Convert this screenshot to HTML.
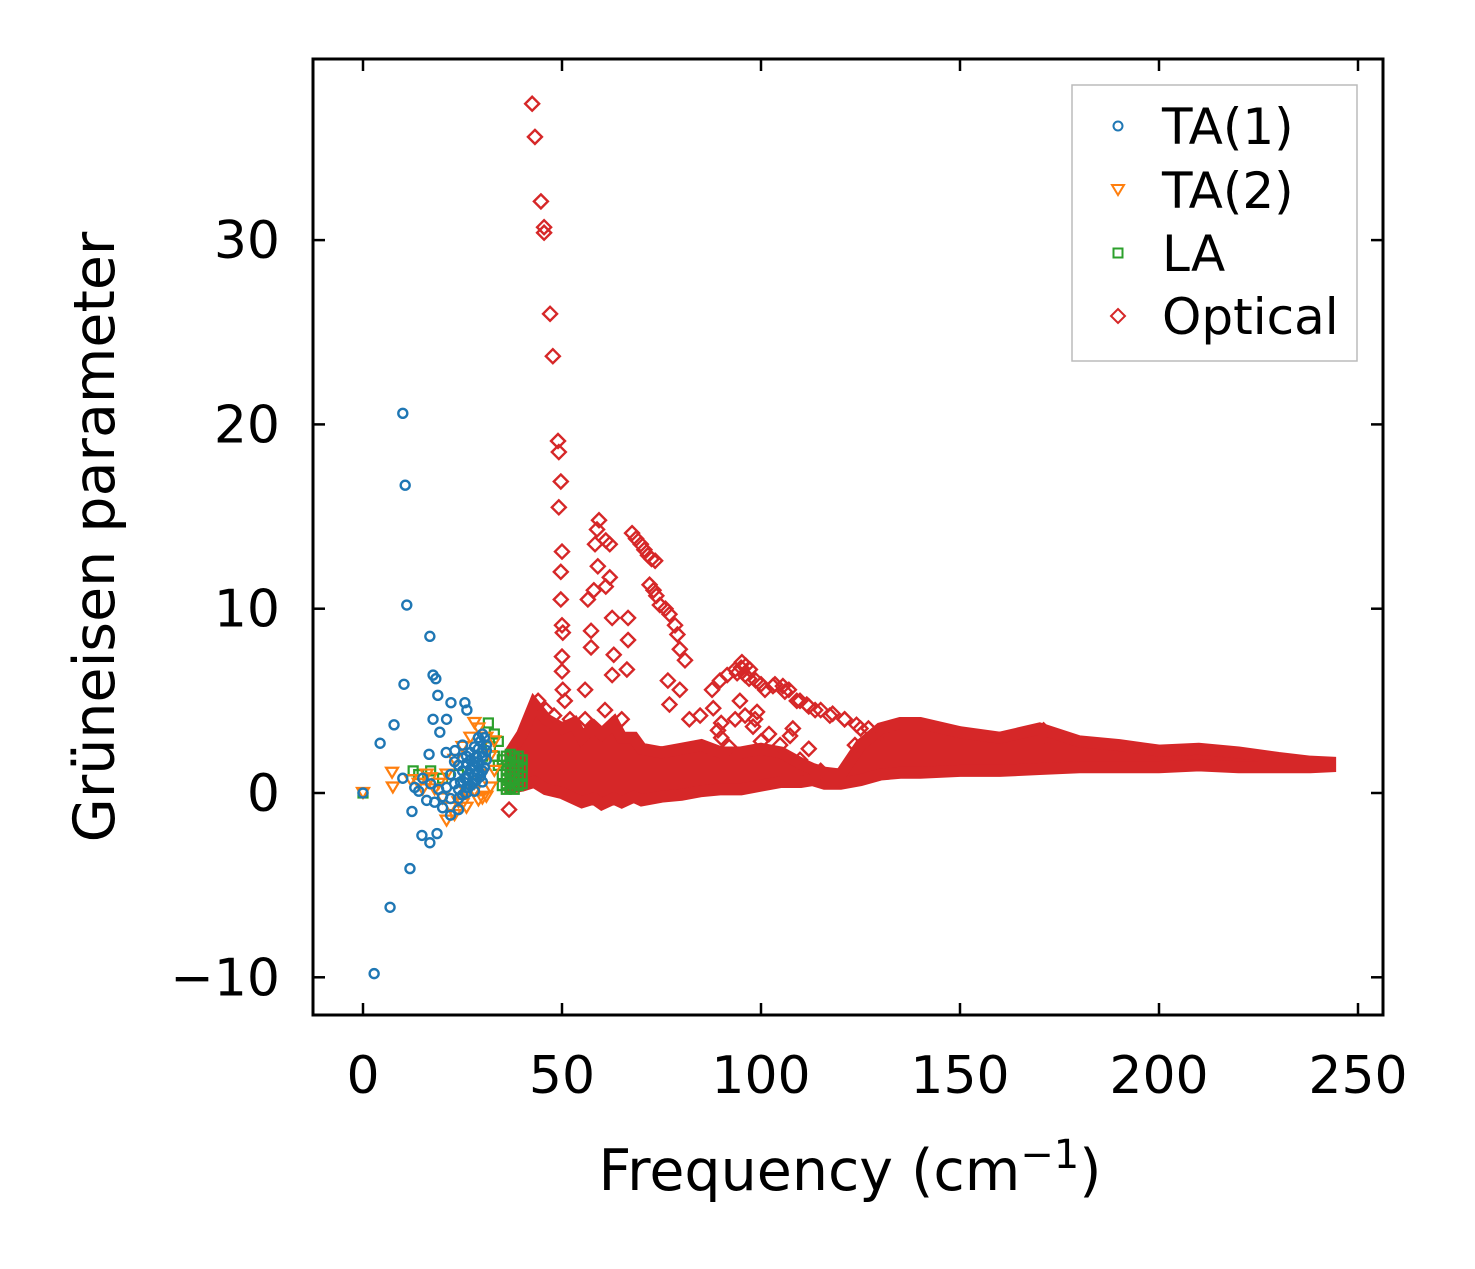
<!DOCTYPE html>
<html><head><meta charset="utf-8"><style>
body{margin:0;background:#fff}
svg text{font-family:"DejaVu Sans","Liberation Sans",sans-serif;fill:#000}
</style></head><body>
<svg id="chart" width="1475" height="1264" viewBox="0 0 1475 1264" xmlns="http://www.w3.org/2000/svg">
<rect width="1475" height="1264" fill="#fff"/>
<g id="plot"></g>
<g id="axes"></g>
<text x="850" y="1190" font-size="57" text-anchor="middle">Frequency (cm<tspan font-size="40" dy="-22">−1</tspan><tspan dy="22">)</tspan></text>
<text transform="translate(114,537) rotate(-90)" font-size="57" text-anchor="middle">Grüneisen parameter</text>
<g>
<rect x="1072" y="85" width="285" height="276" fill="#fff" stroke="#bbb" stroke-width="1.5"/>
<circle cx="1118" cy="126" r="4.5" fill="none" stroke="#1f77b4" stroke-width="2"/>
<text x="1162" y="144" font-size="50">TA(1)</text>
<path d="M1112,185 L1124,185 L1118,195 Z" fill="none" stroke="#ff7f0e" stroke-width="2"/>
<text x="1162" y="208" font-size="50">TA(2)</text>
<rect x="1113.5" y="248.5" width="9" height="9" fill="none" stroke="#2ca02c" stroke-width="2"/>
<text x="1162" y="271" font-size="50">LA</text>
<path d="M1118,309 L1125,316 L1118,323 L1111,316 Z" fill="none" stroke="#d62728" stroke-width="2"/>
<text x="1162" y="334" font-size="50">Optical</text>
</g>
</svg>
<script>
const xTicks=[0,50,100,150,200,250];
const yTicks=[-10,0,10,20,30];
const bandX=[37,40,43,46,50,53,55,58,60,63,65,68,70,75,80,85,90,95,100,105,110,113,116,120,125,130,135,140,150,160,170,180,190,200,210,220,230,238,243];
const bandLow=[0.3,0.4,0.6,0.2,0.0,-0.3,-0.5,-0.3,-0.6,-0.3,-0.5,-0.2,-0.4,-0.2,-0.1,0.1,0.2,0.2,0.4,0.6,0.6,0.7,0.5,0.5,0.7,1.0,1.1,1.1,1.2,1.2,1.3,1.4,1.4,1.4,1.5,1.4,1.4,1.4,1.45];
const bandHigh=[2.2,3.2,4.8,4.0,3.5,3.8,3.0,3.6,3.2,3.8,3.0,3.0,2.4,2.2,2.4,2.6,2.2,2.2,2.4,2.2,1.6,1.3,1.1,1.0,2.6,3.5,3.8,3.8,3.3,3.0,3.5,2.8,2.6,2.3,2.4,2.2,1.9,1.7,1.65];
const optX=[42.5,43.2,44.7,45.5,45.5,47,47.7,49,49.2,49.7,49.2,50,49.7,49.7,50,50.2,50,50,50.2,50.7,59.3,58.8,61,58.3,62,59,62,58,61,56.5,57.3,57.3,62.6,63,62.6,66.3,66.6,66.6,55.8,55.8,60.8,62.6,65,67.6,68.6,69.8,70.7,71.6,72.5,73.4,72,73,73.7,74.6,76,77,78.4,79,79.6,80.9,76.6,79.6,77,82,84.7,87.7,89.7,91.5,93.5,95.2,96.2,97.2,98.7,94.7,96,93.5,89.2,98.5,101,103.5,105.5,107,109.8,111.5,113.6,117.3,121,125,130,104.8,107.3,109.8,123.6,36.7,90,92,100,102,108,112,115,94,95,96,97,100,103,106,109,112,115,118,121,124,127,44,46,48,52,88,90,98,99,171,172];
const optY=[37.4,35.6,32.1,30.7,30.4,26,23.7,19.1,18.5,16.9,15.5,13.1,12,10.5,9.1,8.7,7.4,6.6,5.6,5,14.8,14.3,13.7,13.5,13.5,12.3,11.7,11,11.2,10.5,8.8,7.9,9.5,7.5,6.4,6.7,8.3,9.5,5.6,4,4.5,3.7,4,14.1,13.8,13.5,13.2,12.9,12.7,12.6,11.3,11,10.7,10.2,10,9.7,9.1,8.6,7.8,7.2,6.1,5.6,4.8,4,4.2,5.6,6.1,6.4,6.7,7.1,6.9,6.7,6.1,5,4.2,4,3.4,4,5.6,5.9,5.8,5.6,5,4.8,4.5,4.2,4,3.5,3.3,2.6,3.1,1.8,2.6,-0.9,3,2.5,2.8,3.2,3.5,2.4,1.2,6.5,6.8,6.4,6.2,5.9,5.8,5.5,5.0,4.7,4.5,4.3,4.0,3.7,3.5,5.0,4.5,4.2,4.0,4.6,3.8,3.6,4.4,3.4,3.0];
const ta1X=[10,10.6,11,16.8,17.6,18.3,10.3,18.8,7.8,4.3,22.1,25.6,26.1,19.3,17.6,21,23.1,20.9,16.6,10,12.3,14.8,16.8,18.6,11.8,6.8,2.8,0,22,24,26,28,29,30,27,25,23,21,19,17,15,13,20,22,24,26,28,30,31,29,27,25,23,18,16,14,24,26,28,30,27,25,22,20,31,29,29.5,30.5,28.5,27.5,26.5,25.5,24.5,29,30,28,27,26,25,31,30.5,29.5,28.5,27.5,26.5,30,28,26,24];
const ta1Y=[20.6,16.7,10.2,8.5,6.4,6.2,5.9,5.3,3.7,2.7,4.9,4.9,4.5,3.3,4,4,2.3,2.2,2.1,0.8,-1,-2.3,-2.7,-2.2,-4.1,-6.2,-9.8,0,1,1.5,2,2.5,3,3.2,1.8,1.2,0.5,0.3,0.2,0.5,0.8,0.3,-0.8,-0.3,0.2,0.8,1.5,2,2.6,2.4,2.2,2.6,1.7,-0.5,-0.4,0.1,-0.9,0.3,1,1.2,0.4,-0.1,-1.2,-0.2,1.8,1.5,2.8,3.0,2.0,1.5,1.0,0.8,0.6,1.2,2.2,1.7,1.3,1.6,1.9,2.3,1.4,0.9,0.7,0.5,0.3,0.6,0.1,0,-0.3];
const ta2X=[7.3,7.5,0,28,12,14,16,18,20,22,24,26,28,30,32,31,29,27,25,23,21,19,17,15,21,23,26,29,31,33,33,32,30,28,25];
const ta2Y=[1.1,0.3,0,3.8,0.7,0.5,1,0.2,-0.3,-0.8,-0.5,0,0.5,1,2,3,3.5,3,2.5,1.8,1,0.5,0.8,0.2,-1.5,-1.2,-0.8,-0.4,-0.2,2.8,1.2,0.3,-0.3,0.1,-0.6];
const laX=[0,12.6,31.5,14,17,20,24,28,30,32,33,34,35,36,37,38,39,40,36,37,38,39,40,35,34,33,36,38,39,37,36,37,38,39,40,36,37,38,39,35,36,37,38,39,40];
const laY=[0,1.2,3.8,1,1.2,0.8,1,1.5,2,2.5,2,1.5,1,0.5,0.3,0.8,1.5,1.8,2,2.1,1.9,1.2,0.9,1.8,2.8,3.2,1.2,0.5,0.7,1.3,0.2,0.6,1.0,0.4,1.4,1.5,1.7,0.2,1.0,0.4,0.8,1.0,1.5,2.0,0.5];

const X0=363,XS=3.98,Y0=793,YS=18.43;
const sx=v=>X0+v*XS, sy=v=>Y0-v*YS;
const NS='http://www.w3.org/2000/svg';
const plot=document.getElementById('plot'), axes=document.getElementById('axes');
function mk(tag,attrs,parent){const e=document.createElementNS(NS,tag);for(const k in attrs)e.setAttribute(k,attrs[k]);parent.appendChild(e);return e;}

let pts=[];
for(let i=0;i<bandX.length;i++)pts.push(sx(bandX[i])+','+sy(bandHigh[i]));
for(let i=bandX.length-1;i>=0;i--)pts.push(sx(bandX[i])+','+sy(bandLow[i]));
const band=mk('polygon',{points:pts.join(' '),fill:'#d62728',stroke:'#d62728','stroke-width':12,'stroke-linejoin':'miter'},plot);



for(let i=0;i<laX.length;i++){const x=sx(laX[i]),y=sy(laY[i]);
 const r=mk('rect',{x:x-4.5,y:y-4.5,width:9,height:9,fill:'none',stroke:'#2ca02c','stroke-width':2.2},plot);
 
 }
for(let i=0;i<ta2X.length;i++){const x=sx(ta2X[i]),y=sy(ta2Y[i]);
 const p=mk('path',{d:`M${x-6},${y-5} L${x+6},${y-5} L${x},${y+5} Z`,fill:'none',stroke:'#ff7f0e','stroke-width':2.2},plot);
 
 }
for(let i=0;i<ta1X.length;i++){
 const c=mk('circle',{cx:sx(ta1X[i]),cy:sy(ta1Y[i]),r:4.5,fill:'none',stroke:'#1f77b4','stroke-width':2.4},plot);
 
 }
for(let i=0;i<optX.length;i++){const x=sx(optX[i]),y=sy(optY[i]);
 const p=mk('path',{d:`M${x},${y-7} L${x+7},${y} L${x},${y+7} L${x-7},${y} Z`,fill:'none',stroke:'#d62728','stroke-width':2.4},plot);
 
 }

const fr=mk('rect',{x:313,y:59,width:1070,height:956,fill:'none',stroke:'#000','stroke-width':3},axes);


for(const t of xTicks){const x=sx(t);
 mk('line',{x1:x,y1:1015,x2:x,y2:1003,stroke:'#000','stroke-width':2.5},axes);
 mk('line',{x1:x,y1:59,x2:x,y2:71,stroke:'#000','stroke-width':2.5},axes);
 const tx=mk('text',{x:x,y:1093,'font-size':52,'text-anchor':'middle'},axes);tx.textContent=t;
 
 }
for(const t of yTicks){const y=sy(t);
 mk('line',{x1:313,y1:y,x2:325,y2:y,stroke:'#000','stroke-width':2.5},axes);
 mk('line',{x1:1383,y1:y,x2:1371,y2:y,stroke:'#000','stroke-width':2.5},axes);
 const tx=mk('text',{x:280,y:y+18,'font-size':52,'text-anchor':'end'},axes);tx.textContent=t<0?'−'+(-t):t;
 
 }
</script>
</body></html>
